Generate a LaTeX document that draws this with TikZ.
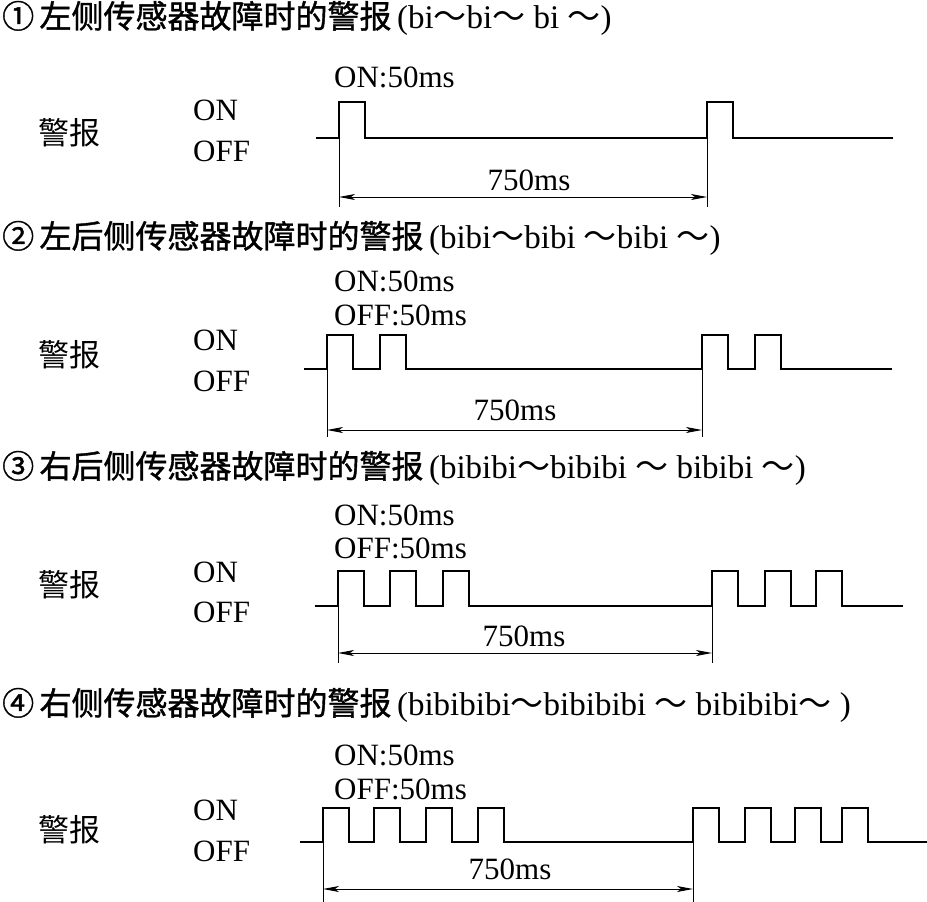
\documentclass[tikz,border=0pt]{standalone}
\usepackage{fontspec}
\setmainfont{Liberation Serif}
\newfontfamily\cjk{Noto Sans CJK SC}
\newfontfamily\cjkb{Noto Sans CJK SC}[FakeBold=1.2]
\usetikzlibrary{arrows.meta}
\newcommand{\tl}{{\cjk ～}}
\begin{document}
\begin{tikzpicture}[x=1pt,y=-1pt,
  sig/.style={line width=2.8pt, line join=miter},
  dimline/.style={line width=1pt},
  dimarrow/.style={line width=1pt,{Stealth[length=16pt,width=6pt,inset=4pt]}-{Stealth[length=16pt,width=6pt,inset=4pt]}},
  lbl/.style={font=\fontsize{31}{32}\selectfont, inner sep=0pt},
  title/.style={font=\fontsize{33}{34}\selectfont, inner sep=0pt, anchor=west},
  cn/.style={font=\cjk\fontsize{31}{32}\selectfont, inner sep=0pt},
  onoff/.style={font=\fontsize{31}{32}\selectfont, inner sep=0pt, anchor=west}]
\useasboundingbox (0,0) rectangle (927,902);

% ---------- Panel 1 ----------
\node[title] (h1) at (2,18) {{\cjkb\fontsize{32}{33}\selectfont ①\,左侧传感器故障时的警报}\,(bi\tl bi\tl\ bi\ \tl)};
\node[cn] (j1) at (69,133) {警报};
\node[onoff] (on1) at (193,110) {ON};
\node[onoff] (off1) at (193,151) {OFF};
\node[lbl,anchor=west] (d1) at (334,77) {ON:50ms};
\draw[sig] (316,138) foreach \r in {339,707} { -- (\r,138) -- (\r,102) -- (\r+26,102) -- (\r+26,138) } -- (893,138);
\coordinate (a1) at (339,138); \coordinate (b1) at (707,138);
\coordinate (a1e) at (339,207); \coordinate (b1e) at (707,207);
\coordinate (a1m) at (339,197); \coordinate (b1m) at (707,197);
\draw[dimline] (a1) -- (a1e); \draw[dimline] (b1) -- (b1e);
\draw[dimarrow] (a1m) -- (b1m);
\node[lbl] (m1) at (529,180) {750ms};

% ---------- Panel 2 ----------
\node[title] (h2) at (2,238) {{\cjkb\fontsize{32}{33}\selectfont ②\,左后侧传感器故障时的警报}\,(bibi\tl bibi\ \tl bibi\ \tl)};
\node[cn] (j2) at (69,355) {警报};
\node[onoff] (on2) at (193,340) {ON};
\node[onoff] (off2) at (193,381) {OFF};
\node[lbl,anchor=west] (d2a) at (334,281) {ON:50ms};
\node[lbl,anchor=west] (d2b) at (334,315) {OFF:50ms};
\draw[sig] (304,369) foreach \r in {327,380,702,755} { -- (\r,369) -- (\r,335) -- (\r+26,335) -- (\r+26,369) } -- (892,369);
\coordinate (a2) at (327,369); \coordinate (b2) at (702,369);
\coordinate (a2e) at (327,437); \coordinate (b2e) at (702,437);
\coordinate (a2m) at (327,430); \coordinate (b2m) at (702,430);
\draw[dimline] (a2) -- (a2e); \draw[dimline] (b2) -- (b2e);
\draw[dimarrow] (a2m) -- (b2m);
\node[lbl] (m2) at (515,410) {750ms};

% ---------- Panel 3 ----------
\node[title] (h3) at (2,468) {{\cjkb\fontsize{32}{33}\selectfont ③\,右后侧传感器故障时的警报}\,(bibibi\tl bibibi\ \tl\ bibibi\ \tl)};
\node[cn] (j3) at (69,585) {警报};
\node[onoff] (on3) at (193,572) {ON};
\node[onoff] (off3) at (193,612) {OFF};
\node[lbl,anchor=west] (d3a) at (334,515) {ON:50ms};
\node[lbl,anchor=west] (d3b) at (334,548) {OFF:50ms};
\draw[sig] (315,606) foreach \r in {338,390,443,712,765,816} { -- (\r,606) -- (\r,571) -- (\r+26,571) -- (\r+26,606) } -- (903,606);
\coordinate (a3) at (338,606); \coordinate (b3) at (712,606);
\coordinate (a3e) at (338,663); \coordinate (b3e) at (712,663);
\coordinate (a3m) at (338,653); \coordinate (b3m) at (712,653);
\draw[dimline] (a3) -- (a3e); \draw[dimline] (b3) -- (b3e);
\draw[dimarrow] (a3m) -- (b3m);
\node[lbl] (m3) at (524,636) {750ms};

% ---------- Panel 4 ----------
\node[title] (h4) at (2,705) {{\cjkb\fontsize{32}{33}\selectfont ④\,右侧传感器故障时的警报}\,(bibibibi\tl bibibibi\ \tl\ bibibibi\tl\ )};
\node[cn] (j4) at (69,830) {警报};
\node[onoff] (on4) at (193,810) {ON};
\node[onoff] (off4) at (193,851) {OFF};
\node[lbl,anchor=west] (d4a) at (334,755) {ON:50ms};
\node[lbl,anchor=west] (d4b) at (334,789) {OFF:50ms};
\draw[sig] (300,842) foreach \r in {323,374,426,478,693,745,795,842} { -- (\r,842) -- (\r,808) -- (\r+26,808) -- (\r+26,842) } -- (927,842);
\coordinate (a4) at (323,842); \coordinate (b4) at (693,842);
\coordinate (a4e) at (323,902); \coordinate (b4e) at (693,902);
\coordinate (a4m) at (323,889); \coordinate (b4m) at (693,889);
\draw[dimline] (a4) -- (a4e); \draw[dimline] (b4) -- (b4e);
\draw[dimarrow] (a4m) -- (b4m);
\node[lbl] (m4) at (510,869) {750ms};
\end{tikzpicture}
\end{document}
